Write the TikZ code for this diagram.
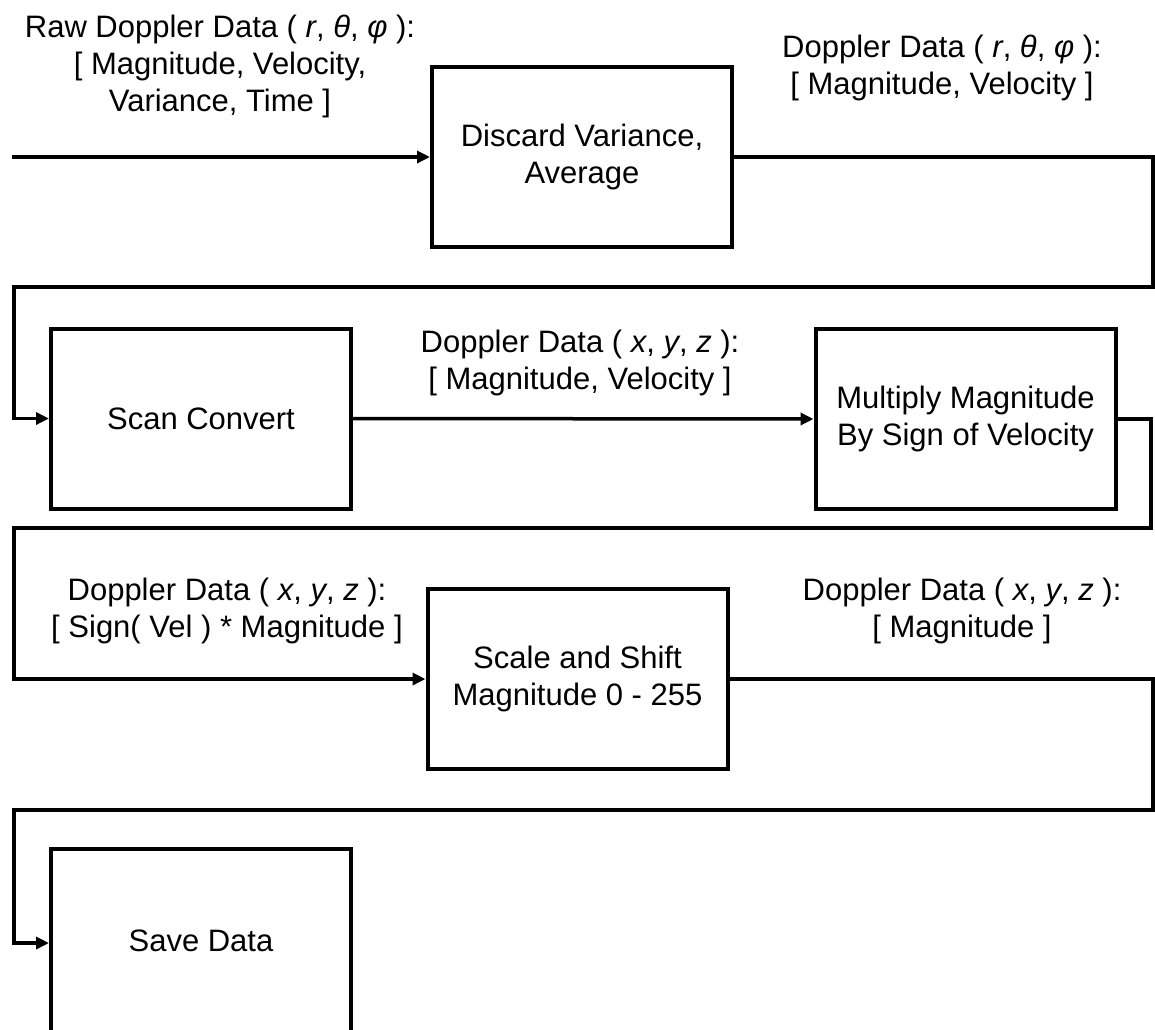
\documentclass[tikz,border=0pt]{standalone}
\usepackage{fontspec}
\setmainfont{Liberation Sans}
\usetikzlibrary{arrows.meta}

\begin{document}
\begin{tikzpicture}[x=1pt,y=-1pt,
  font=\fontsize{31}{37}\selectfont,
  stage/.style={draw=black, line width=4pt, minimum width=300pt, minimum height=180pt,
    align=center, inner sep=0pt, fill=white},
  datalabel/.style={align=center, inner sep=0pt},
  flow/.style={line width=3.5pt, -{Triangle[length=13pt,width=12pt]}}]

\clip (0,0) rectangle (1155,1029);
\fill[white] (0,0) rectangle (1155,1029);

% processing stages
\node[stage] (discard)  at (582,157)   {Discard Variance,\\Average};
\node[stage] (scan)     at (201,418.5) {Scan Convert};
\node[stage] (multiply) at (965.5,419) {Multiply Magnitude\\By Sign of Velocity};
\node[stage] (scale)    at (577.5,679) {Scale and Shift\\Magnitude 0 - 255};
\node[stage, minimum height=184pt] (save) at (201,941) {Save Data};

% data descriptions on the links
\node[datalabel] (rawlbl) at (220,66)
  {Raw Doppler Data ( \textit{r}, \textit{θ}, \textit{φ} ):\\{[} Magnitude, Velocity,\\Variance, Time ]};
\node[datalabel] (avglbl) at (942,67.5)
  {Doppler Data ( \textit{r}, \textit{θ}, \textit{φ} ):\\{[} Magnitude, Velocity ]};
\node[datalabel] (xyzlbl) at (580,362.5)
  {Doppler Data ( \textit{x}, \textit{y}, \textit{z} ):\\{[} Magnitude, Velocity ]};
\node[datalabel] (signlbl) at (227,610.5)
  {Doppler Data ( \textit{x}, \textit{y}, \textit{z} ):\\{[} Sign( Vel ) * Magnitude ]};
\node[datalabel] (maglbl) at (962,610.5)
  {Doppler Data ( \textit{x}, \textit{y}, \textit{z} ):\\{[} Magnitude ]};

% connectors
\coordinate (input) at (12,157);
\draw[flow] (input) -- (discard.west);
\draw[flow] (discard.east) -- (1153,157) -- (1153,287) -- (14,287) |- (scan.west);
\draw[flow] (scan.east) -- (multiply.west);
\draw[flow] (multiply.east) -- (1151,419) -- (1151,528) -- (14,528) |- (scale.west);
\draw[flow] (scale.east) -- (1153,679) -- (1153,810) -- (14,810) |- ([yshift=-2pt]save.west);
\end{tikzpicture}
\end{document}
